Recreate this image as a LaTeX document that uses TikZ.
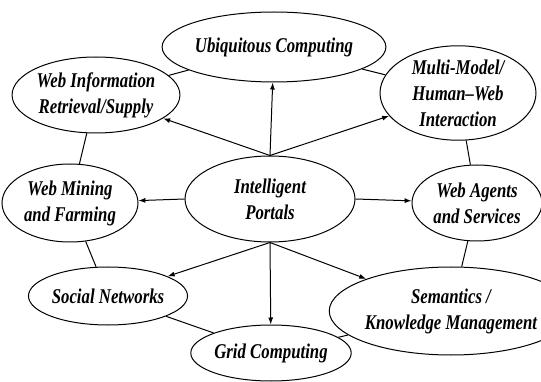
\documentclass[tikz,border=0pt]{standalone}
\usepackage{fontspec}
\setmainfont{Liberation Serif}[FakeStretch=0.8]
\usetikzlibrary{shapes.geometric,arrows.meta}
\begin{document}
\begin{tikzpicture}[x=1pt,y=-1pt,
  bub/.style={draw,line width=1pt,ellipse,inner sep=0pt,align=center,
     font=\fontsize{21}{26}\selectfont\bfseries\itshape},
  ring/.style={line width=1pt},
  arr/.style={line width=1pt,-{Latex[length=7pt,width=5pt]}}]
\useasboundingbox (0,0) rectangle (541,382);
\node[bub,minimum width=192pt,minimum height=70pt] (ubi) at (274,47) {Ubiquitous Computing};
\node[bub,minimum width=152pt,minimum height=76pt] (wir) at (96,95) {Web Information\\Retrieval/Supply};
\node[bub,minimum width=156pt,minimum height=92pt] (mm) at (458,93) {Multi-Model/\\Human--Web\\Interaction};
\node[bub,minimum width=170pt,minimum height=86pt] (ip) at (270,199) {Intelligent\\Portals};
\node[bub,minimum width=136pt,minimum height=78pt] (wm) at (70,203) {Web Mining\\and Farming};
\node[bub,minimum width=130pt,minimum height=76pt] (wa) at (477,203) {Web Agents\\and Services};
\node[bub,minimum width=146pt,minimum height=58pt] (sn) at (108,296) {Social Networks};
\node[bub,minimum width=158pt,minimum height=56pt] (gc) at (271,353) {Grid Computing};
\node[bub,minimum width=178pt,minimum height=88pt] (sk) at (451,311) {Semantics /\\Knowledge Management};
% ring
\draw[ring] (ubi) -- (wir);
\draw[ring] (ubi) -- (mm);
\draw[ring] (mm) -- (wa);
\draw[ring] (wa) -- (sk);
\draw[ring] (sk) -- (gc);
\draw[ring] (gc) -- (sn);
\draw[ring] (sn) -- (wm);
\draw[ring] (wm) -- (wir);
% arrows
\draw[arr] (ip.north) -- (ubi);
\draw[arr] (ip.north) -- (wir);
\draw[arr] (ip.north) -- (mm);
\draw[arr] (ip.west) -- (wm);
\draw[arr] (ip.east) -- (wa);
\draw[arr] (ip.south) -- (sn);
\draw[arr] (ip.south) -- (gc);
\draw[arr] (ip.south) -- (sk);
\end{tikzpicture}
\end{document}
